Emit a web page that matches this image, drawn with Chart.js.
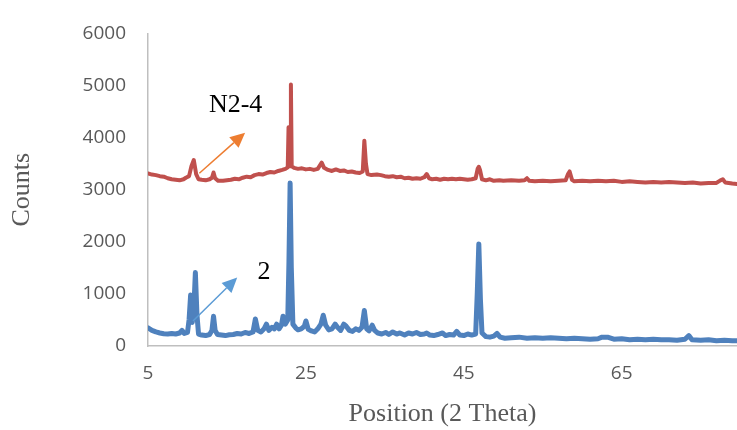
<!DOCTYPE html>
<html>
<head>
<meta charset="utf-8">
<script src="https://cdn.jsdelivr.net/npm/chart.js@4.4.1/dist/chart.umd.min.js"></script>
<style>
  html, body { margin: 0; padding: 0; background: #fff; }
  #wrap { width: 737px; height: 430px; position: relative; }
</style>
</head>
<body>
<div id="wrap"><canvas id="xrdChart"></canvas></div>
<script>
// XRD patterns: sample "2" (blue) and "N2-4" (red)
const xTicks = [5, 25, 45, 65];
const yTicks = [0, 1000, 2000, 3000, 4000, 5000, 6000];

const blueTheta = [5.0, 5.5, 6.0, 6.5, 7.0, 7.5, 8.0, 8.5, 9.0, 9.3, 9.6, 10.0, 10.2, 10.4, 10.6, 10.8, 11.0, 11.2, 11.4, 11.8,
    12.3, 12.8, 13.1, 13.3, 13.5, 13.8, 14.3, 14.8, 15.3, 15.8, 16.3, 16.8, 17.3, 17.8, 18.3, 18.6, 18.9, 19.3, 19.7, 20.0,
    20.3, 20.7, 21.0, 21.3, 21.6, 21.9, 22.1, 22.4, 22.7, 22.85, 23.0, 23.15, 23.35, 23.7, 24.0, 24.4, 24.8, 25.0, 25.3, 25.7,
    26.1, 26.5, 26.9, 27.2, 27.5, 27.9, 28.3, 28.7, 29.0, 29.4, 29.8, 30.1, 30.5, 30.9, 31.3, 31.7, 32.1, 32.4, 32.7, 33.0,
    33.4, 33.7, 34.1, 34.6, 35.1, 35.5, 36.0, 36.5, 36.9, 37.5, 38.0, 38.5, 39.0, 39.5, 40.0, 40.3, 40.7, 41.2, 41.7, 42.3,
    42.7, 43.2, 43.7, 44.1, 44.5, 45.0, 45.5, 46.0, 46.5, 46.7, 46.9, 47.1, 47.3, 47.8, 48.3, 48.8, 49.2, 49.6, 50.2, 51.0,
    52.0, 53.0, 54.0, 55.0, 56.0, 57.0, 58.0, 59.0, 60.0, 61.0, 62.0, 62.5, 63.2, 64.0, 65.0, 66.0, 67.0, 68.0, 69.0, 70.0,
    71.0, 72.0, 73.0, 73.5, 73.9, 75.0, 76.0, 77.0, 78.0, 79.0, 79.6];
const blueCounts = [350, 300, 270, 250, 235, 230, 240, 230, 250, 300, 240, 260, 500, 980, 450, 700, 1410, 600, 230, 210,
    200, 220, 300, 570, 300, 220, 210, 200, 215, 220, 240, 230, 260, 240, 270, 520, 300, 270, 330, 420,
    300, 360, 330, 420, 330, 400, 570, 420, 500, 1600, 3130, 1500, 420, 350, 310, 330, 380, 480, 320, 290,
    270, 330, 420, 590, 400, 310, 330, 420, 360, 300, 420, 380, 300, 280, 330, 300, 360, 680, 330, 290,
    400, 300, 250, 230, 260, 220, 270, 230, 250, 210, 250, 230, 260, 220, 230, 250, 210, 200, 220, 250,
    200, 220, 210, 280, 210, 200, 230, 210, 230, 1000, 1960, 900, 250, 180, 170, 190, 240, 170, 150, 160,
    170, 150, 160, 150, 160, 150, 140, 150, 140, 130, 140, 170, 170, 130, 140, 120, 130, 120, 130, 120,
    120, 110, 130, 200, 120, 110, 120, 100, 110, 100, 100];

const redTheta = [5.0, 5.5, 6.0, 6.5, 7.0, 7.5, 8.0, 8.5, 9.0, 9.5, 9.8, 10.2, 10.5, 10.8, 11.1, 11.4, 11.8, 12.3, 12.8, 13.1,
    13.3, 13.5, 13.9, 14.5, 15.0, 15.5, 16.0, 16.5, 17.0, 17.5, 18.0, 18.5, 19.0, 19.5, 20.0, 20.5, 21.0, 21.5, 22.0, 22.4,
    22.7, 22.8, 22.9, 23.0, 23.1, 23.2, 23.5, 24.0, 24.5, 25.0, 25.5, 26.0, 26.5, 27.0, 27.3, 27.8, 28.3, 28.8, 29.3, 29.8,
    30.3, 30.8, 31.3, 31.8, 32.2, 32.4, 32.6, 32.8, 33.3, 34.0, 34.5, 35.0, 35.5, 36.0, 36.5, 37.0, 37.5, 38.0, 38.5, 39.0,
    39.5, 40.0, 40.3, 40.6, 41.0, 41.5, 42.0, 42.5, 43.0, 43.5, 44.0, 44.5, 45.0, 45.5, 46.0, 46.5, 46.75, 46.9, 47.05, 47.3,
    47.8, 48.3, 48.8, 49.5, 50.0, 51.0, 52.0, 52.7, 53.0, 53.3, 54.0, 55.0, 56.0, 57.0, 57.9, 58.2, 58.4, 58.7, 59.0, 60.0,
    61.0, 62.0, 63.0, 64.0, 65.0, 66.0, 67.0, 68.0, 69.0, 70.0, 71.0, 72.0, 73.0, 74.0, 75.0, 76.0, 77.0, 77.5, 77.8, 78.1,
    79.0, 79.6];
const redCounts = [3310, 3290, 3280, 3260, 3250, 3220, 3200, 3190, 3180, 3200, 3230, 3260, 3450, 3570, 3300, 3200, 3190, 3180, 3200, 3230,
    3330, 3220, 3170, 3170, 3180, 3190, 3210, 3200, 3230, 3250, 3240, 3280, 3300, 3290, 3320, 3340, 3330, 3360, 3380, 3400,
    3430, 4200, 3450, 3450, 5020, 3450, 3420, 3400, 3410, 3390, 3400, 3380, 3400, 3520, 3420, 3380, 3360, 3390, 3360, 3370,
    3340, 3350, 3330, 3320, 3350, 3940, 3500, 3300, 3280, 3290, 3280, 3260, 3250, 3260, 3240, 3250, 3220, 3230, 3210, 3220,
    3210, 3240, 3300, 3220, 3200, 3210, 3190, 3210, 3200, 3210, 3200, 3210, 3200, 3190, 3200, 3220, 3400, 3440, 3380, 3200,
    3180, 3200, 3170, 3180, 3170, 3180, 3170, 3180, 3220, 3170, 3160, 3170, 3160, 3170, 3180, 3300, 3350, 3190, 3160, 3170,
    3160, 3170, 3160, 3170, 3150, 3160, 3150, 3140, 3150, 3140, 3150, 3140, 3130, 3140, 3120, 3130, 3130, 3180, 3200, 3140,
    3120, 3110];

// labels + arrows placed in data units
const notes = [
    { text: 'N2-4', x: 16.1, y: 4630, from: [11.5, 3315], to: [17.3, 4095], color: '#ED7D31' },
    { text: '2', x: 19.7, y: 1410, from: [10.7, 480], to: [16.3, 1315], color: '#5B9BD5' }
];

function pairs(xs, ys) {
    return xs.map((x, i) => ({ x: x, y: ys[i] }));
}

const notesPlugin = {
    id: 'notes',
    afterDatasetsDraw(chart) {
        const ctx = chart.ctx;
        const xs = chart.scales.x, ys = chart.scales.y;
        ctx.save();
        notes.forEach(n => {
            const x1 = xs.getPixelForValue(n.from[0]), y1 = ys.getPixelForValue(n.from[1]);
            const x2 = xs.getPixelForValue(n.to[0]), y2 = ys.getPixelForValue(n.to[1]);
            const ang = Math.atan2(y2 - y1, x2 - x1);
            const headLen = 15, headW = 7;
            const bx = x2 - headLen * Math.cos(ang), by = y2 - headLen * Math.sin(ang);
            ctx.strokeStyle = n.color;
            ctx.fillStyle = n.color;
            ctx.lineWidth = 1.5;
            ctx.beginPath();
            ctx.moveTo(x1, y1);
            ctx.lineTo(bx, by);
            ctx.stroke();
            ctx.beginPath();
            ctx.moveTo(x2, y2);
            ctx.lineTo(bx + headW * Math.sin(ang), by - headW * Math.cos(ang));
            ctx.lineTo(bx - headW * Math.sin(ang), by + headW * Math.cos(ang));
            ctx.closePath();
            ctx.fill();

            ctx.fillStyle = '#000';
            ctx.font = '26px "Liberation Serif", "Times New Roman", serif';
            ctx.textAlign = 'center';
            ctx.textBaseline = 'middle';
            ctx.fillText(n.text, xs.getPixelForValue(n.x), ys.getPixelForValue(n.y));
        });
        ctx.restore();
    }
};

const tickFont = { family: '"Open Sans", "Liberation Sans", sans-serif', size: 19 };
const titleFont = { family: '"Liberation Serif", "Times New Roman", serif', size: 26 };

new Chart(document.getElementById('xrdChart'), {
    type: 'line',
    data: {
        datasets: [
            {
                label: '2',
                data: pairs(blueTheta, blueCounts),
                borderColor: '#4F81BD',
                borderWidth: 5,
                borderJoinStyle: 'round',
                borderCapStyle: 'round',
                pointRadius: 0,
                tension: 0
            },
            {
                label: 'N2-4',
                data: pairs(redTheta, redCounts),
                borderColor: '#C0504D',
                borderWidth: 4,
                borderJoinStyle: 'round',
                borderCapStyle: 'round',
                pointRadius: 0,
                tension: 0
            }
        ]
    },
    options: {
        responsive: true,
        maintainAspectRatio: false,
        animation: false,
        layout: { padding: { top: 22, left: 0, right: 0, bottom: 0 } },
        plugins: {
            legend: { display: false },
            tooltip: { enabled: false }
        },
        scales: {
            x: {
                type: 'linear',
                min: 5,
                max: 79.6,
                afterBuildTicks: s => { s.ticks = xTicks.map(v => ({ value: v })); },
                afterFit: s => { s.height = 84; },
                grid: { display: false, drawTicks: false },
                border: { color: '#BFBFBF', width: 1.5 },
                ticks: { color: '#595959', font: tickFont, padding: 16, maxRotation: 0, callback: v => String(v) },
                title: {
                    display: true,
                    text: 'Position (2 Theta)',
                    color: '#595959',
                    font: titleFont,
                    padding: { top: 3, bottom: 0 }
                }
            },
            y: {
                min: 0,
                max: 6000,
                afterBuildTicks: s => { s.ticks = yTicks.map(v => ({ value: v })); },
                afterFit: s => { s.width = 148; },
                grid: { display: false, drawTicks: false },
                border: { color: '#BFBFBF', width: 1.5 },
                ticks: { color: '#595959', font: tickFont, padding: 22, callback: v => String(v) },
                title: {
                    display: true,
                    text: 'Counts',
                    color: '#595959',
                    font: titleFont,
                    padding: { top: 7, bottom: 0 }
                }
            }
        }
    },
    plugins: [notesPlugin]
});
</script>
</body>
</html>
